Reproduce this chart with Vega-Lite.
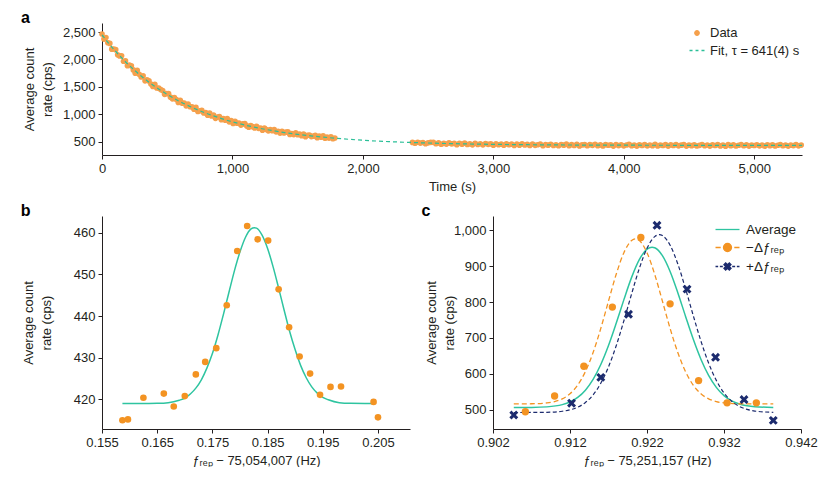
{
"$schema": "https://vega.github.io/schema/vega-lite/v6.json",
"padding": {"left": 20, "top": 10, "right": 0, "bottom": 0},
"background": "white",
"config": {
  "font": "Liberation Sans",
  "view": {"stroke": null},
  "axis": {"grid": false, "domainColor": "#231f20", "tickColor": "#231f20", "labelColor": "#231f20", "titleColor": "#231f20", "labelFont": "Liberation Sans", "titleFont": "Liberation Sans", "labelFontSize": 13, "titleFontSize": 13, "titleFontWeight": "normal", "tickSize": 4, "domainWidth": 1, "tickWidth": 1, "labelPadding": 3, "labelFlush": false, "labelOverlap": false, "titleLineHeight": 17.5, "tickCount": 12},
  "legend": {"labelFont": "Liberation Sans", "labelFontSize": 13, "labelColor": "#231f20", "symbolStrokeWidth": 1.3, "padding": 0, "rowPadding": 2, "labelOffset": 5},
  "title": {"font": "Liberation Sans", "fontSize": 16, "fontWeight": "bold", "anchor": "start", "frame": "bounds", "color": "#000000", "offset": -3}
},
"datasets": {
  "decay": [
{"t":0,"c":2464},{"t":15,"c":2372},{"t":30,"c":2399},{"t":45,"c":2305},{"t":60,"c":2293},{"t":75,"c":2188},{"t":90,"c":2191},{"t":105,"c":2178},{"t":120,"c":2084},{"t":135,"c":2064},{"t":150,"c":2067},{"t":165,"c":1967},{"t":180,"c":1976},{"t":195,"c":1887},{"t":210,"c":1898},{"t":225,"c":1882},{"t":240,"c":1809},{"t":255,"c":1750},{"t":270,"c":1800},{"t":285,"c":1729},{"t":300,"c":1681},{"t":315,"c":1701},{"t":330,"c":1610},{"t":345,"c":1627},{"t":360,"c":1609},{"t":375,"c":1551},{"t":390,"c":1507},{"t":405,"c":1545},{"t":420,"c":1479},{"t":435,"c":1478},{"t":450,"c":1450},{"t":465,"c":1434},{"t":480,"c":1363},{"t":495,"c":1376},{"t":510,"c":1379},{"t":525,"c":1312},{"t":540,"c":1281},{"t":555,"c":1303},{"t":570,"c":1270},{"t":585,"c":1216},{"t":600,"c":1253},{"t":615,"c":1203},{"t":630,"c":1206},{"t":645,"c":1154},{"t":660,"c":1186},{"t":675,"c":1138},{"t":690,"c":1136},{"t":705,"c":1092},{"t":720,"c":1125},{"t":735,"c":1051},{"t":750,"c":1064},{"t":765,"c":1070},{"t":780,"c":1025},{"t":795,"c":1029},{"t":810,"c":984},{"t":825,"c":1023},{"t":840,"c":968},{"t":855,"c":987},{"t":870,"c":926},{"t":885,"c":949},{"t":900,"c":958},{"t":915,"c":901},{"t":930,"c":922},{"t":945,"c":893},{"t":960,"c":921},{"t":975,"c":862},{"t":990,"c":883},{"t":1005,"c":831},{"t":1020,"c":870},{"t":1035,"c":836},{"t":1050,"c":838},{"t":1065,"c":802},{"t":1080,"c":824},{"t":1095,"c":829},{"t":1110,"c":787},{"t":1125,"c":765},{"t":1140,"c":796},{"t":1155,"c":774},{"t":1170,"c":750},{"t":1185,"c":779},{"t":1200,"c":744},{"t":1215,"c":750},{"t":1230,"c":710},{"t":1245,"c":748},{"t":1260,"c":722},{"t":1275,"c":698},{"t":1290,"c":723},{"t":1305,"c":700},{"t":1320,"c":722},{"t":1335,"c":679},{"t":1350,"c":690},{"t":1365,"c":657},{"t":1380,"c":690},{"t":1395,"c":660},{"t":1410,"c":674},{"t":1425,"c":680},{"t":1440,"c":633},{"t":1455,"c":650},{"t":1470,"c":629},{"t":1485,"c":663},{"t":1500,"c":628},{"t":1515,"c":638},{"t":1530,"c":608},{"t":1545,"c":640},{"t":1560,"c":591},{"t":1575,"c":618},{"t":1590,"c":622},{"t":1605,"c":593},{"t":1620,"c":601},{"t":1635,"c":614},{"t":1650,"c":571},{"t":1665,"c":601},{"t":1680,"c":583},{"t":1695,"c":605},{"t":1710,"c":563},{"t":1725,"c":585},{"t":1740,"c":565},{"t":1755,"c":590},{"t":1770,"c":553},{"t":1785,"c":567},
{"t":2380,"c":486},{"t":2400,"c":472},{"t":2420,"c":490},{"t":2440,"c":474},{"t":2460,"c":485},{"t":2480,"c":462},{"t":2500,"c":479},{"t":2520,"c":488},{"t":2540,"c":488},{"t":2560,"c":463},{"t":2580,"c":478},{"t":2600,"c":453},{"t":2620,"c":470},{"t":2640,"c":456},{"t":2660,"c":477},{"t":2680,"c":461},{"t":2700,"c":469},{"t":2720,"c":446},{"t":2740,"c":471},{"t":2760,"c":454},{"t":2780,"c":473},{"t":2800,"c":448},{"t":2820,"c":460},{"t":2840,"c":443},{"t":2860,"c":471},{"t":2880,"c":448},{"t":2900,"c":462},{"t":2920,"c":442},{"t":2940,"c":467},{"t":2960,"c":451},{"t":2980,"c":460},{"t":3000,"c":435},{"t":3020,"c":462},{"t":3040,"c":444},{"t":3060,"c":454},{"t":3080,"c":436},{"t":3100,"c":461},{"t":3120,"c":444},{"t":3140,"c":455},{"t":3160,"c":431},{"t":3180,"c":456},{"t":3200,"c":437},{"t":3220,"c":460},{"t":3240,"c":440},{"t":3260,"c":450},{"t":3280,"c":431},{"t":3300,"c":454},{"t":3320,"c":434},{"t":3340,"c":444},{"t":3360,"c":456},{"t":3380,"c":426},{"t":3400,"c":448},{"t":3420,"c":436},{"t":3440,"c":453},{"t":3460,"c":430},{"t":3480,"c":444},{"t":3500,"c":426},{"t":3520,"c":449},{"t":3540,"c":437},{"t":3560,"c":454},{"t":3580,"c":428},{"t":3600,"c":445},{"t":3620,"c":431},{"t":3640,"c":451},{"t":3660,"c":423},{"t":3680,"c":441},{"t":3700,"c":447},{"t":3720,"c":425},{"t":3740,"c":445},{"t":3760,"c":433},{"t":3780,"c":451},{"t":3800,"c":427},{"t":3820,"c":441},{"t":3840,"c":423},{"t":3860,"c":447},{"t":3880,"c":435},{"t":3900,"c":443},{"t":3920,"c":420},{"t":3940,"c":447},{"t":3960,"c":429},{"t":3980,"c":444},{"t":4000,"c":424},{"t":4020,"c":439},{"t":4040,"c":450},{"t":4060,"c":427},{"t":4080,"c":437},{"t":4100,"c":420},{"t":4120,"c":444},{"t":4140,"c":431},{"t":4160,"c":447},{"t":4180,"c":424},{"t":4200,"c":440},{"t":4220,"c":427},{"t":4240,"c":450},{"t":4260,"c":422},{"t":4280,"c":439},{"t":4300,"c":430},{"t":4320,"c":445},{"t":4340,"c":419},{"t":4360,"c":441},{"t":4380,"c":431},{"t":4400,"c":445},{"t":4420,"c":424},{"t":4440,"c":436},{"t":4460,"c":447},{"t":4480,"c":420},{"t":4500,"c":440},{"t":4520,"c":427},{"t":4540,"c":443},{"t":4560,"c":422},{"t":4580,"c":434},{"t":4600,"c":448},{"t":4620,"c":425},{"t":4640,"c":439},{"t":4660,"c":419},{"t":4680,"c":442},{"t":4700,"c":430},{"t":4720,"c":445},{"t":4740,"c":423},{"t":4760,"c":437},{"t":4780,"c":417},{"t":4800,"c":446},{"t":4820,"c":428},{"t":4840,"c":441},{"t":4860,"c":421},{"t":4880,"c":435},{"t":4900,"c":447},{"t":4920,"c":426},{"t":4940,"c":443},{"t":4960,"c":420},{"t":4980,"c":438},{"t":5000,"c":431},{"t":5020,"c":444},{"t":5040,"c":424},{"t":5060,"c":440},{"t":5080,"c":418},{"t":5100,"c":444},{"t":5120,"c":428},{"t":5140,"c":441},{"t":5160,"c":421},{"t":5180,"c":435},{"t":5200,"c":447},{"t":5220,"c":426},{"t":5240,"c":440},{"t":5260,"c":420},{"t":5280,"c":437},{"t":5300,"c":429},{"t":5320,"c":445},{"t":5340,"c":424},{"t":5360,"c":438}
  ],
  "fitA": [
{"t":0,"c":2450},{"t":50,"c":2299},{"t":100,"c":2160},{"t":150,"c":2031},{"t":200,"c":1911},{"t":250,"c":1801},{"t":300,"c":1699},{"t":350,"c":1604},{"t":400,"c":1517},{"t":450,"c":1436},{"t":500,"c":1362},{"t":600,"c":1228},{"t":700,"c":1115},{"t":800,"c":1017},{"t":900,"c":934},{"t":1000,"c":862},{"t":1100,"c":801},{"t":1200,"c":749},{"t":1300,"c":705},{"t":1400,"c":666},{"t":1500,"c":634},{"t":1600,"c":606},{"t":1700,"c":582},{"t":1800,"c":561},{"t":2000,"c":526},{"t":2200,"c":501},{"t":2400,"c":483},{"t":2600,"c":469},{"t":2800,"c":459},{"t":3000,"c":451},{"t":3300,"c":444},{"t":3600,"c":439},{"t":4000,"c":436},{"t":4500,"c":434},{"t":5000,"c":433},{"t":5366,"c":432}
  ],
  "legA": [{"k":"Data"},{"k":"Fit, τ = 641(4) s"}],
  "ptsB": [
{"x":0.1587,"y":415.0},{"x":0.1597,"y":415.2},{"x":0.1625,"y":420.4},{"x":0.1662,"y":421.4},{"x":0.1680,"y":418.3},{"x":0.1700,"y":420.8},{"x":0.1720,"y":426.0},{"x":0.1737,"y":429.0},{"x":0.1757,"y":432.3},{"x":0.1776,"y":442.6},{"x":0.1795,"y":455.6},{"x":0.1813,"y":461.6},{"x":0.1832,"y":458.4},{"x":0.1851,"y":458.1},{"x":0.1870,"y":446.4},{"x":0.1889,"y":437.3},{"x":0.1908,"y":430.3},{"x":0.1927,"y":426.2},{"x":0.1945,"y":421.1},{"x":0.1964,"y":423.0},{"x":0.1983,"y":423.1},{"x":0.2042,"y":419.4},{"x":0.2050,"y":415.7}
  ],
  "fitB": [
{"x":0.1587,"y":419.0},{"x":0.162,"y":419.0},{"x":0.165,"y":419.05},{"x":0.167,"y":419.2},{"x":0.169,"y":419.8},{"x":0.170,"y":420.3},{"x":0.171,"y":421.3},{"x":0.172,"y":422.7},{"x":0.173,"y":424.7},{"x":0.174,"y":427.5},{"x":0.175,"y":431.0},{"x":0.176,"y":435.4},{"x":0.177,"y":440.4},{"x":0.178,"y":445.7},{"x":0.179,"y":450.9},{"x":0.180,"y":455.4},{"x":0.181,"y":458.9},{"x":0.182,"y":460.9},{"x":0.1826,"y":461.2},{"x":0.183,"y":461.1},{"x":0.184,"y":459.4},{"x":0.185,"y":456.2},{"x":0.186,"y":451.8},{"x":0.187,"y":446.7},{"x":0.188,"y":441.4},{"x":0.189,"y":436.3},{"x":0.190,"y":431.9},{"x":0.191,"y":428.1},{"x":0.192,"y":425.2},{"x":0.193,"y":423.0},{"x":0.194,"y":421.5},{"x":0.195,"y":420.5},{"x":0.196,"y":419.9},{"x":0.198,"y":419.2},{"x":0.200,"y":419.05},{"x":0.2042,"y":419.0}
  ],
  "ptsC": [
{"x":0.9062,"y":494,"s":"m"},{"x":0.9100,"y":538,"s":"m"},{"x":0.9138,"y":621,"s":"m"},{"x":0.9175,"y":786,"s":"m"},{"x":0.9212,"y":980,"s":"m"},{"x":0.9250,"y":795,"s":"m"},{"x":0.9287,"y":581,"s":"m"},{"x":0.9324,"y":519,"s":"m"},{"x":0.9362,"y":519,"s":"m"},
{"x":0.9047,"y":485,"s":"p"},{"x":0.9122,"y":518,"s":"p"},{"x":0.9160,"y":590,"s":"p"},{"x":0.9196,"y":766,"s":"p"},{"x":0.9233,"y":1014,"s":"p"},{"x":0.9272,"y":836,"s":"p"},{"x":0.9309,"y":646,"s":"p"},{"x":0.9346,"y":528,"s":"p"},{"x":0.9384,"y":470,"s":"p"}
  ],
  "curvC": [
{"x":0.9047,"y":506.0,"s":"avg"},{"x":0.907,"y":506.3,"s":"avg"},{"x":0.909,"y":507.7,"s":"avg"},{"x":0.911,"y":513.9,"s":"avg"},{"x":0.912,"y":521.3,"s":"avg"},{"x":0.913,"y":534.0,"s":"avg"},{"x":0.914,"y":554.3,"s":"avg"},{"x":0.915,"y":584.4,"s":"avg"},{"x":0.916,"y":626.0,"s":"avg"},{"x":0.917,"y":678.9,"s":"avg"},{"x":0.918,"y":740.9,"s":"avg"},{"x":0.919,"y":806.8,"s":"avg"},{"x":0.920,"y":868.8,"s":"avg"},{"x":0.921,"y":918.3,"s":"avg"},{"x":0.922,"y":947.5,"s":"avg"},{"x":0.92265,"y":953.0,"s":"avg"},{"x":0.923,"y":951.4,"s":"avg"},{"x":0.924,"y":929.4,"s":"avg"},{"x":0.925,"y":885.3,"s":"avg"},{"x":0.926,"y":826.1,"s":"avg"},{"x":0.927,"y":760.6,"s":"avg"},{"x":0.928,"y":696.8,"s":"avg"},{"x":0.929,"y":640.7,"s":"avg"},{"x":0.930,"y":595.6,"s":"avg"},{"x":0.931,"y":562.2,"s":"avg"},{"x":0.932,"y":539.2,"s":"avg"},{"x":0.933,"y":524.5,"s":"avg"},{"x":0.934,"y":515.7,"s":"avg"},{"x":0.935,"y":510.8,"s":"avg"},{"x":0.936,"y":508.2,"s":"avg"},{"x":0.9384,"y":506.3,"s":"avg"},
{"x":0.9047,"y":516.0,"s":"m"},{"x":0.907,"y":516.4,"s":"m"},{"x":0.909,"y":518.8,"s":"m"},{"x":0.910,"y":522.5,"s":"m"},{"x":0.911,"y":530.1,"s":"m"},{"x":0.912,"y":544.3,"s":"m"},{"x":0.913,"y":568.5,"s":"m"},{"x":0.914,"y":606.1,"s":"m"},{"x":0.915,"y":659.2,"s":"m"},{"x":0.916,"y":726.6,"s":"m"},{"x":0.917,"y":802.8,"s":"m"},{"x":0.918,"y":877.5,"s":"m"},{"x":0.919,"y":937.8,"s":"m"},{"x":0.920,"y":971.6,"s":"m"},{"x":0.9205,"y":976.0,"s":"m"},{"x":0.921,"y":971.6,"s":"m"},{"x":0.922,"y":937.8,"s":"m"},{"x":0.923,"y":877.5,"s":"m"},{"x":0.924,"y":802.8,"s":"m"},{"x":0.925,"y":726.6,"s":"m"},{"x":0.926,"y":659.2,"s":"m"},{"x":0.927,"y":606.1,"s":"m"},{"x":0.928,"y":568.5,"s":"m"},{"x":0.929,"y":544.3,"s":"m"},{"x":0.930,"y":530.1,"s":"m"},{"x":0.931,"y":522.5,"s":"m"},{"x":0.932,"y":518.8,"s":"m"},{"x":0.934,"y":516.4,"s":"m"},{"x":0.9384,"y":516.0,"s":"m"},
{"x":0.9047,"y":492.0,"s":"p"},{"x":0.907,"y":492.1,"s":"p"},{"x":0.909,"y":492.6,"s":"p"},{"x":0.911,"y":495.5,"s":"p"},{"x":0.912,"y":499.4,"s":"p"},{"x":0.913,"y":506.8,"s":"p"},{"x":0.914,"y":519.8,"s":"p"},{"x":0.915,"y":541.2,"s":"p"},{"x":0.916,"y":573.6,"s":"p"},{"x":0.917,"y":619.2,"s":"p"},{"x":0.918,"y":678.1,"s":"p"},{"x":0.919,"y":748.0,"s":"p"},{"x":0.920,"y":822.8,"s":"p"},{"x":0.921,"y":893.6,"s":"p"},{"x":0.922,"y":949.9,"s":"p"},{"x":0.923,"y":982.4,"s":"p"},{"x":0.9236,"y":988.0,"s":"p"},{"x":0.924,"y":985.5,"s":"p"},{"x":0.925,"y":958.5,"s":"p"},{"x":0.926,"y":906.3,"s":"p"},{"x":0.927,"y":837.6,"s":"p"},{"x":0.928,"y":762.9,"s":"p"},{"x":0.929,"y":691.4,"s":"p"},{"x":0.930,"y":629.9,"s":"p"},{"x":0.931,"y":581.6,"s":"p"},{"x":0.932,"y":546.7,"s":"p"},{"x":0.933,"y":523.3,"s":"p"},{"x":0.934,"y":508.9,"s":"p"},{"x":0.935,"y":500.6,"s":"p"},{"x":0.936,"y":496.1,"s":"p"},{"x":0.9384,"y":492.5,"s":"p"}
  ],
  "legC": [{"k":"Average"},{"k":"−Δƒᵣₑₚ"},{"k":"+Δƒᵣₑₚ"}]
},
"spacing": 10,
"resolve": {"scale": {"fill": "independent", "stroke": "independent", "shape": "independent"}, "legend": {"fill": "independent", "stroke": "independent", "shape": "independent"}},
"vconcat": [
  {
    "width": 700, "height": 132,
    "title": {"text": "a", "dx": -3},
    "layer": [
      {
        "data": {"name": "decay"},
        "mark": {"type": "circle", "size": 32, "color": "#F5A04C", "opacity": 1},
        "encoding": {
          "x": {"field": "t", "type": "quantitative", "scale": {"domain": [0, 5366], "nice": false, "zero": false},
                "axis": {"title": "Time (s)", "values": [0,1000,2000,3000,4000,5000], "tickCount": 12, "format": ",d", "titlePadding": 5, "labelOverlap": false}},
          "y": {"field": "c", "type": "quantitative", "scale": {"domain": [257, 2665], "nice": false, "zero": false},
                "axis": {"title": ["Average count", "rate (cps)"], "values": [500,1000,1500,2000,2500], "tickCount": 12, "format": ",d", "titlePadding": 8, "labelOverlap": false}}
        }
      },
      {
        "data": {"name": "fitA"},
        "mark": {"type": "line", "color": "#2BBF98", "strokeWidth": 1.2, "strokeDash": [4, 3], "interpolate": "monotone"},
        "encoding": {
          "x": {"field": "t", "type": "quantitative"},
          "y": {"field": "c", "type": "quantitative"}
        }
      },
      {
        "data": {"name": "legA"},
        "mark": {"type": "point", "filled": true, "opacity": 0},
        "encoding": {
          "fill": {"field": "k", "type": "nominal", "scale": {"domain": ["Data", "Fit, τ = 641(4) s"], "range": ["#F5A04C", "#2BBF98"]},
                   "legend": {"orient": "top-right", "offset": 2, "title": null, "symbolSize": 196, "symbolOpacity": 1, "rowPadding": 2.5}},
          "stroke": {"field": "k", "type": "nominal", "scale": {"domain": ["Data", "Fit, τ = 641(4) s"], "range": ["#F5A04C", "#2BBF98"]},
                   "legend": {"orient": "top-right", "offset": 2, "title": null, "symbolSize": 196, "symbolOpacity": 1, "rowPadding": 2.5}},
          "shape": {"field": "k", "type": "nominal", "scale": {"domain": ["Data", "Fit, τ = 641(4) s"], "range": ["M-0.32,0A0.32,0.32,0,1,1,0.32,0A0.32,0.32,0,1,1,-0.32,0Z", "M-1.07,0H-0.64M-0.21,0H0.21M0.64,0H1.07"]},
                   "legend": {"orient": "top-right", "offset": 2, "title": null, "symbolSize": 196, "symbolOpacity": 1, "rowPadding": 2.5}}
        }
      }
    ]
  },
  {
    "spacing": 11,
    "resolve": {"scale": {"fill": "independent", "stroke": "independent", "shape": "independent"}, "legend": {"fill": "independent", "stroke": "independent", "shape": "independent"}},
    "hconcat": [
      {
        "width": 308, "height": 213,
        "title": {"text": "b", "dx": -2},
        "layer": [
          {
            "data": {"name": "fitB"},
            "mark": {"type": "line", "color": "#2EC4A0", "strokeWidth": 1.5, "interpolate": "monotone"},
            "encoding": {
              "x": {"field": "x", "type": "quantitative", "scale": {"domain": [0.155, 0.2108], "nice": false, "zero": false},
                    "axis": {"title": "ƒᵣₑₚ − 75,054,007 (Hz)", "values": [0.155,0.165,0.175,0.185,0.195,0.205], "tickCount": 12, "format": ".3f", "titlePadding": 5, "labelOverlap": false}},
              "y": {"field": "y", "type": "quantitative", "scale": {"domain": [412.9, 464], "nice": false, "zero": false},
                    "axis": {"title": ["Average count", "rate (cps)"], "values": [420,430,440,450,460], "tickCount": 12, "format": "d", "titlePadding": 20, "labelOverlap": false}}
            }
          },
          {
            "data": {"name": "ptsB"},
            "mark": {"type": "circle", "size": 44, "color": "#F39322", "opacity": 1},
            "encoding": {
              "x": {"field": "x", "type": "quantitative"},
              "y": {"field": "y", "type": "quantitative"}
            }
          }
        ]
      },
      {
        "width": 308, "height": 213,
        "title": {"text": "c", "dx": -4.5},
        "layer": [
          {
            "data": {"name": "curvC"},
            "transform": [{"filter": "datum.s == 'avg'"}],
            "mark": {"type": "line", "color": "#2EC4A0", "strokeWidth": 1.5, "interpolate": "monotone"},
            "encoding": {
              "x": {"field": "x", "type": "quantitative", "scale": {"domain": [0.902, 0.942], "nice": false, "zero": false},
                    "axis": {"title": "ƒᵣₑₚ − 75,251,157 (Hz)", "values": [0.902,0.912,0.922,0.932,0.942], "tickCount": 12, "format": ".3f", "titlePadding": 5, "labelOverlap": false}},
              "y": {"field": "y", "type": "quantitative", "scale": {"domain": [446, 1040], "nice": false, "zero": false},
                    "axis": {"title": ["Average count", "rate (cps)"], "values": [500,600,700,800,900,1000], "tickCount": 12, "format": ",d", "titlePadding": -3, "labelOverlap": false}}
            }
          },
          {
            "data": {"name": "curvC"},
            "transform": [{"filter": "datum.s == 'm'"}],
            "mark": {"type": "line", "color": "#F39322", "strokeWidth": 1.3, "strokeDash": [5, 3], "interpolate": "monotone"},
            "encoding": {
              "x": {"field": "x", "type": "quantitative"},
              "y": {"field": "y", "type": "quantitative"}
            }
          },
          {
            "data": {"name": "curvC"},
            "transform": [{"filter": "datum.s == 'p'"}],
            "mark": {"type": "line", "color": "#1C2B6E", "strokeWidth": 1.2, "strokeDash": [4, 2.5], "interpolate": "monotone"},
            "encoding": {
              "x": {"field": "x", "type": "quantitative"},
              "y": {"field": "y", "type": "quantitative"}
            }
          },
          {
            "data": {"name": "ptsC"},
            "transform": [{"filter": "datum.s == 'm'"}],
            "mark": {"type": "circle", "size": 54, "color": "#F39322", "opacity": 1},
            "encoding": {
              "x": {"field": "x", "type": "quantitative"},
              "y": {"field": "y", "type": "quantitative"}
            }
          },
          {
            "data": {"name": "ptsC"},
            "transform": [{"filter": "datum.s == 'p'"}],
            "mark": {"type": "point", "filled": true, "opacity": 1, "size": 80, "color": "#1C2B6E", "shape": "M1,-0.526L0.475,0L1,0.526L0.526,1L0,0.475L-0.526,1L-1,0.526L-0.475,0L-1,-0.526L-0.526,-1L0,-0.475L0.526,-1Z"},
            "encoding": {
              "x": {"field": "x", "type": "quantitative"},
              "y": {"field": "y", "type": "quantitative"}
            }
          },
          {
            "data": {"name": "legC"},
            "mark": {"type": "point", "filled": true, "opacity": 0},
            "encoding": {
              "fill": {"field": "k", "type": "nominal", "scale": {"domain": ["Average", "−Δƒᵣₑₚ", "+Δƒᵣₑₚ"], "range": ["#2EC4A0", "#F39322", "#1C2B6E"]},
                       "legend": {"orient": "top-right", "offset": 4, "title": null, "symbolSize": 289, "symbolOpacity": 1, "labelFontSize": 13.5, "rowPadding": 2, "labelOffset": 9}},
              "stroke": {"field": "k", "type": "nominal", "scale": {"domain": ["Average", "−Δƒᵣₑₚ", "+Δƒᵣₑₚ"], "range": ["#2EC4A0", "#F39322", "#1C2B6E"]},
                       "legend": {"orient": "top-right", "offset": 4, "title": null, "symbolSize": 289, "symbolOpacity": 1, "labelFontSize": 13.5, "rowPadding": 2, "labelOffset": 9}},
              "shape": {"field": "k", "type": "nominal", "scale": {"domain": ["Average", "−Δƒᵣₑₚ", "+Δƒᵣₑₚ"], "range": ["M-1.41,0H1.41", "M-1.41,0H-0.8M0.8,0H1.41M-0.47,0A0.47,0.47,0,1,1,0.47,0A0.47,0.47,0,1,1,-0.47,0Z", "M-1.41,0H-1.1M-0.9,0H-0.55M0.55,0H0.9M1.1,0H1.41M0.417,-0.219L0.198,0L0.417,0.219L0.219,0.417L0,0.198L-0.219,0.417L-0.417,0.219L-0.198,0L-0.417,-0.219L-0.219,-0.417L0,-0.198L0.219,-0.417Z"]},
                       "legend": {"orient": "top-right", "offset": 4, "title": null, "symbolSize": 289, "symbolOpacity": 1, "labelFontSize": 13.5, "rowPadding": 2, "labelOffset": 9}}
            }
          }
        ]
      }
    ]
  }
]
}
